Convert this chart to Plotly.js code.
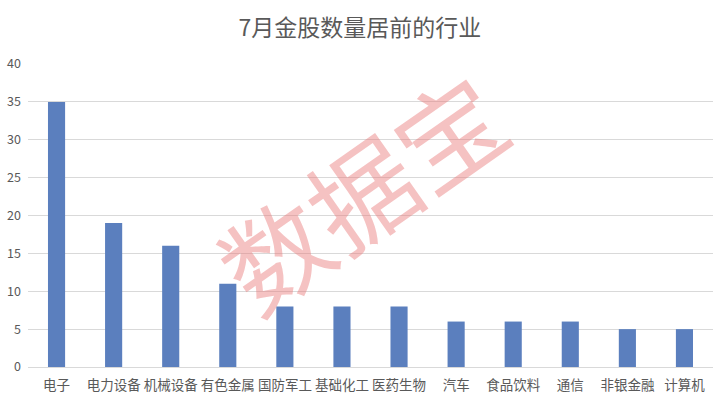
<!DOCTYPE html>
<html><head><meta charset="utf-8">
<script src="https://cdn.plot.ly/plotly-3.0.1.min.js"></script>
<style>html,body{margin:0;padding:0;background:#fff}#c{width:720px;height:405px}</style>
</head><body><div id="c"></div>
<script>
const categories = ["电子","电力设备","机械设备","有色金属","国防军工","基础化工","医药生物","汽车","食品饮料","通信","非银金融","计算机"];
const counts = [35,19,16,11,8,8,8,6,6,6,5,5];
const yTicks = [0,5,10,15,20,25,30,35,40];
const titleText = "7月金股数量居前的行业";
const watermark = "数据宝";

const font = '"Noto Sans CJK SC", "Noto Sans", sans-serif';
Plotly.newPlot('c', [{
  type: 'bar', x: categories, y: counts,
  marker: {color: '#5b7fbe'}, hoverinfo: 'none'
}], {
  width: 720, height: 405,
  margin: {l: 28, r: 7, t: 64, b: 38},
  paper_bgcolor: '#fff', plot_bgcolor: '#fff',
  bargap: 0.70,
  title: {text: titleText, font: {family: font, size: 23, color: '#595959'}, x: 0.5, xanchor: 'center', y: 0.93, yanchor: 'middle'},
  xaxis: {tickfont: {family: font, size: 13.5, color: '#595959'}, showline: true, linecolor: '#d9d9d9', linewidth: 1, ticks: '', showgrid: false, fixedrange: true, ticklabelstandoff: 6},
  yaxis: {range: [0, 40], tickvals: yTicks, tickfont: {family: font, size: 12.5, color: '#595959'}, gridcolor: '#d9d9d9', gridwidth: 1, zeroline: false, showline: false, ticks: '', ticklabelstandoff: 6, fixedrange: true},
  annotations: [{
    text: watermark, xref: 'paper', yref: 'paper', x: 0.485, y: 0.585, showarrow: false,
    textangle: -35, font: {family: font, size: 106, color: 'rgba(232,120,120,0.45)'}
  }],
  showlegend: false
}, {displayModeBar: false, staticPlot: true});
</script></body></html>
